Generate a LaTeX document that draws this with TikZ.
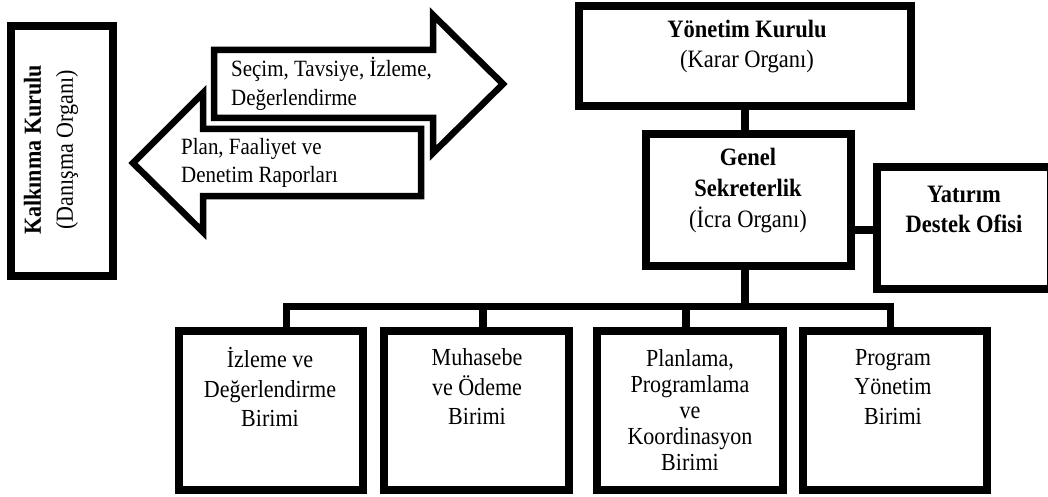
\documentclass[tikz,border=0pt]{standalone}
\usepackage{fontspec}
\setmainfont{Liberation Serif}[FakeStretch=0.9]
\begin{document}
\begin{tikzpicture}[x=1pt,y=-1pt,
  box/.style={draw=black,line width=8pt,fill=white,inner sep=0pt,rectangle,line join=miter},
  conn/.style={draw=black,line width=8pt,line join=miter},
  busline/.style={draw=black,line width=7pt,line join=miter},
  bigarrow/.style={draw=black,line width=6.5pt,fill=white,line join=miter,miter limit=10},
  txt/.style={inner sep=0pt,align=center,font=\fontsize{25}{30}\selectfont},
  arrtxt/.style={inner sep=0pt,align=left,anchor=west,font=\fontsize{23.3}{28.5}\selectfont}]
\useasboundingbox[fill=white] (0,0) rectangle (1048,497);

% ---------- boxes ----------
\node[box,minimum width=102pt,minimum height=250pt] (kk) at (62,151) {};
\node[box,minimum width=332pt,minimum height=100pt] (yk) at (745,56) {};
\node[box,minimum width=205pt,minimum height=132pt] (gs) at (748.5,200) {};
\node[box,minimum width=174pt,minimum height=122pt] (yd) at (964,228) {};
\node[box,minimum width=184pt,minimum height=159pt] (b1) at (271,410.5) {};
\node[box,minimum width=185pt,minimum height=159pt] (b2) at (476.5,410.5) {};
\node[box,minimum width=186pt,minimum height=159pt] (b3) at (690,410.5) {};
\node[box,minimum width=184pt,minimum height=159pt] (b4) at (895,410.5) {};

% ---------- connectors ----------
\coordinate (spine) at (745,0);
\coordinate (d1) at (286,306);
\coordinate (d2) at (483,306);
\coordinate (d3) at (686,306);
\coordinate (d4) at (890,306);
\draw[conn] (spine |- yk.south) -- (spine |- gs.north);
\draw[conn] ([yshift=-30pt]gs.east) -- ([yshift=-30pt]gs.east -| yd.west);
\draw[conn] (spine |- gs.south) -- (spine |- d1);
\draw[busline] (d1 |- b1.north) -- (d1) -- (d4) -- (d4 |- b4.north);
\draw[conn] (d2) -- (d2 |- b2.north);
\draw[conn] (d3) -- (d3 |- b3.north);

% ---------- big arrows ----------
\draw[bigarrow] (214,50) -- (433,50) -- (433,15) -- (503,84) -- (433,153) -- (433,118) -- (214,118) -- cycle;
\draw[bigarrow] (421,129) -- (203,129) -- (203,93) -- (133,163) -- (203,232) -- (203,196) -- (421,196) -- cycle;

% ---------- texts ----------
\node[arrtxt] (t1) at (231,84) {Seçim, Tavsiye, İzleme,\\Değerlendirme};
\node[arrtxt] (t2) at (181,163) {Plan, Faaliyet ve\\Denetim Raporları};
\node[txt,rotate=90,font=\fontsize{24.5}{32}\selectfont] (tk) at (51,150) {\textbf{Kalkınma Kurulu}\\(Danışma Organı)};
\node[txt] (tyk) at (747,47) {\textbf{Yönetim Kurulu}\\(Karar Organı)};
\node[txt,font=\fontsize{25}{31}\selectfont] (tgs) at (748,191) {\textbf{Genel}\\\textbf{Sekreterlik}\\(İcra Organı)};
\node[txt] (tyd) at (964,209.5) {\textbf{Yatırım}\\\textbf{Destek Ofisi}};
\node[txt,font=\fontsize{24.5}{29.5}\selectfont] (tb1) at (270,387) {İzleme ve\\Değerlendirme\\Birimi};
\node[txt,font=\fontsize{24.5}{29.5}\selectfont] (tb2) at (477,387) {Muhasebe\\ve Ödeme\\Birimi};
\node[txt,font=\fontsize{24.5}{26}\selectfont] (tb3) at (690,410) {Planlama,\\Programlama\\ve\\Koordinasyon\\Birimi};
\node[txt,font=\fontsize{24.5}{29.5}\selectfont] (tb4) at (893,387) {Program\\Yönetim\\Birimi};
\end{tikzpicture}
\end{document}
